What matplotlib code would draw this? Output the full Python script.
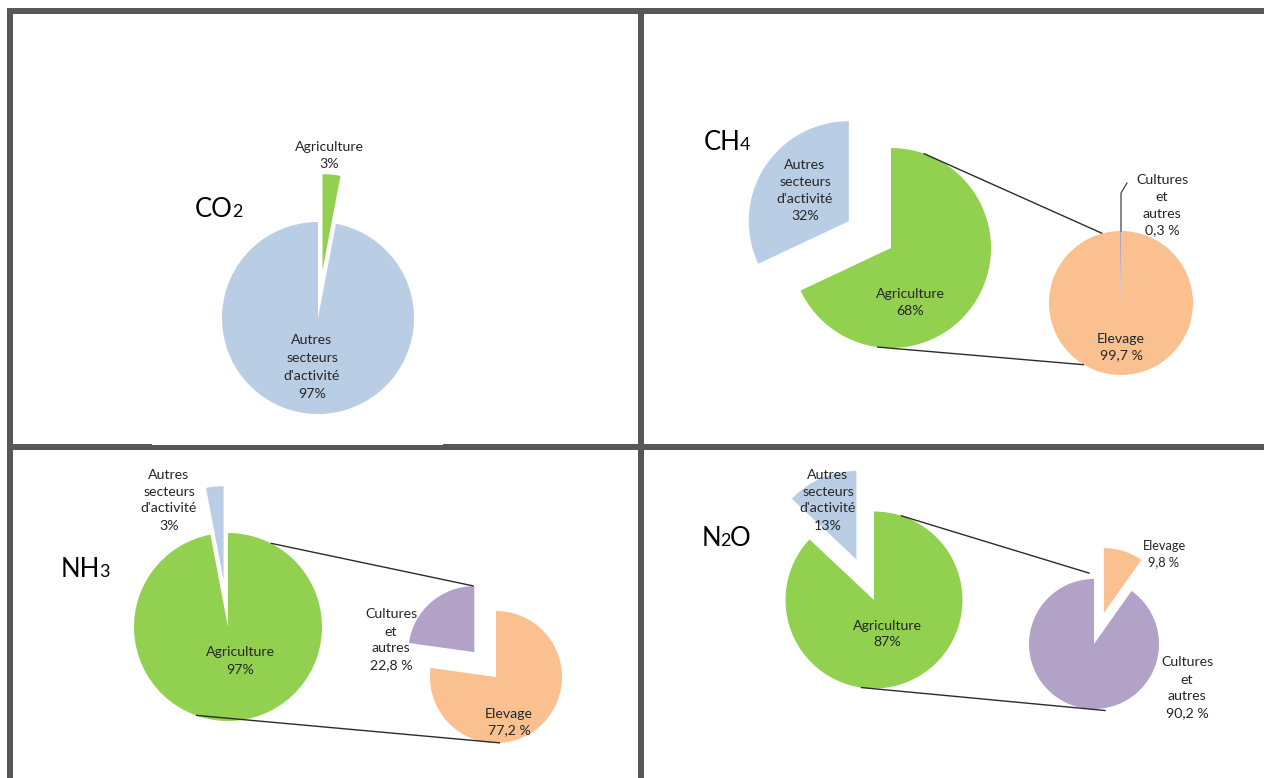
import math
import matplotlib
matplotlib.use("Agg")
import matplotlib.pyplot as plt
from matplotlib.patches import Rectangle

plt.rcParams['font.family'] = ['Lato', 'DejaVu Sans']

W, H = 1264, 778

BLUE = '#B9CDE5'
GREEN = '#92D050'
ORANGE = '#FAC090'
PURPLE = '#B3A2C7'
BORDER = '#575757'
TXT = '#262626'
LINE = '#2b2b2b'

# données (%)
main_labels = ["Agriculture", "Autres\nsecteurs\nd'activité"]
co2_values = [3, 97]
ch4_values = [68, 32]
nh3_values = [97, 3]
n2o_values = [87, 13]

detail_labels = ["Elevage", "Cultures\net\nautres"]
ch4_detail = [99.7, 0.3]
nh3_detail = [77.2, 22.8]
n2o_detail = [9.8, 90.2]


def Y(y):
    # coordonnées image (y vers le bas) -> axes
    return H - y


fig = plt.figure(figsize=(W / 100, H / 100), dpi=100)
ax = fig.add_axes([0, 0, 1, 1])


def pie(values, colors, cx, cy, r, expl_idx=None):
    explode = [0.5 * r if i == expl_idx else 0 for i in range(len(values))]
    wedges, _ = ax.pie(values, colors=colors, explode=explode, radius=r,
                       center=(cx, Y(cy)), startangle=90, counterclock=False,
                       wedgeprops=dict(linewidth=0))
    return wedges


def pt(cx, cy, r, ang, k=1.0):
    a = math.radians(ang)
    return cx + k * r * math.cos(a), Y(cy) + k * r * math.sin(a)


def link(p1, p2):
    ax.plot([p1[0], p2[0]], [p1[1], p2[1]], color=LINE, lw=1.0,
            solid_capstyle='butt')


def pct(v, space=False):
    s = ('%g' % v).replace('.', ',')
    return s + (' %' if space else '%')


def lab(x, y, txt, size=10.2, ls=1.5):
    ax.text(x, Y(y), txt, ha='center', va='center', fontsize=size,
            color=TXT, linespacing=ls)


def chem(x, y, parts):
    r = fig.canvas.get_renderer()
    for s, size in parts:
        t = ax.text(x, Y(y), s, fontsize=size, va='baseline', ha='left',
                    color='black')
        x += t.get_window_extent(renderer=r).width - 1


# ---- CO2
pie(co2_values, [GREEN, BLUE], 318, 318, 96, expl_idx=0)
lab(329, 155, main_labels[0] + "\n" + pct(co2_values[0]))
lab(312, 367, main_labels[1] + "\n" + pct(co2_values[1]), ls=1.62)
chem(195, 217, [("CO", 18.5), ("2", 13)])

# ---- CH4
c1 = (891, 248, 100)
c2 = (1121, 303, 72)
pie(ch4_values, [GREEN, BLUE], *c1, expl_idx=1)
pie(ch4_detail, [ORANGE, PURPLE], *c2)
link(pt(*c1, 71), pt(*c2, 105))
link(pt(*c1, -98), pt(*c2, -121))
top = pt(*c2, 90)
ax.plot([top[0], top[0], top[0] + 6], [top[1], top[1] + 38, top[1] + 48],
        color=LINE, lw=0.8)
lab(805, 190, main_labels[1] + "\n" + pct(ch4_values[1]))
lab(910, 302, main_labels[0] + "\n" + pct(ch4_values[0]))
lab(1162, 205, detail_labels[1] + "\n" + pct(ch4_detail[1], True))
lab(1121, 347, detail_labels[0] + "\n" + pct(ch4_detail[0], True))
chem(704, 150, [("CH", 18.5), ("4", 13)])

# ---- NH3
c1 = (228, 627, 94)
c2 = (496, 677, 66)
pie(nh3_values, [GREEN, BLUE], *c1, expl_idx=1)
pie(nh3_detail, [ORANGE, PURPLE], *c2, expl_idx=1)
link(pt(*c1, 63), pt(*c2, 103.8, 1.42))
link(pt(*c1, -110), pt(*c2, -86.5))
lab(169, 500, main_labels[1] + "\n" + pct(nh3_values[1]))
lab(240, 661, main_labels[0] + "\n" + pct(nh3_values[0]))
lab(391, 640, detail_labels[1] + "\n" + pct(nh3_detail[1], True))
lab(509, 722, detail_labels[0] + "\n" + pct(nh3_detail[0], True))
chem(61, 577, [("NH", 18.5), ("3", 13)])

# ---- N2O
c1 = (874, 600, 88.5)
c2 = (1094, 644, 65)
pie(n2o_values, [GREEN, BLUE], *c1, expl_idx=1)
pie(n2o_detail, [ORANGE, PURPLE], *c2, expl_idx=0)
link(pt(*c1, 72.4), pt(*c2, 93.5, 1.09))
link(pt(*c1, -98.6), pt(*c2, -80, 1.04))
lab(828, 500, main_labels[1] + "\n" + pct(n2o_values[1]))
lab(887, 634, main_labels[0] + "\n" + pct(n2o_values[0]))
lab(1164, 554, detail_labels[0] + "\n" + pct(n2o_detail[0], True), size=9.2,
    ls=1.45)
lab(1187, 688, detail_labels[1] + "\n" + pct(n2o_detail[1], True))
chem(702, 546, [("N", 18.5), ("2", 13), ("O", 18.5)])

# cadres
for x0, y0, w, h in [(7, 8, W - 7, 6), (7, 8, 6, H - 8), (638, 8, 6, H - 8),
                     (7, 444, W - 7, 6)]:
    ax.add_patch(Rectangle((x0, Y(y0 + h)), w, h, color=BORDER, lw=0))
ax.add_patch(Rectangle((152, Y(445)), 291, 1, color='white', lw=0))

ax.set_xlim(0, W)
ax.set_ylim(0, H)
ax.set_aspect('equal')
ax.axis('off')

fig.savefig('out.png', dpi=100)
